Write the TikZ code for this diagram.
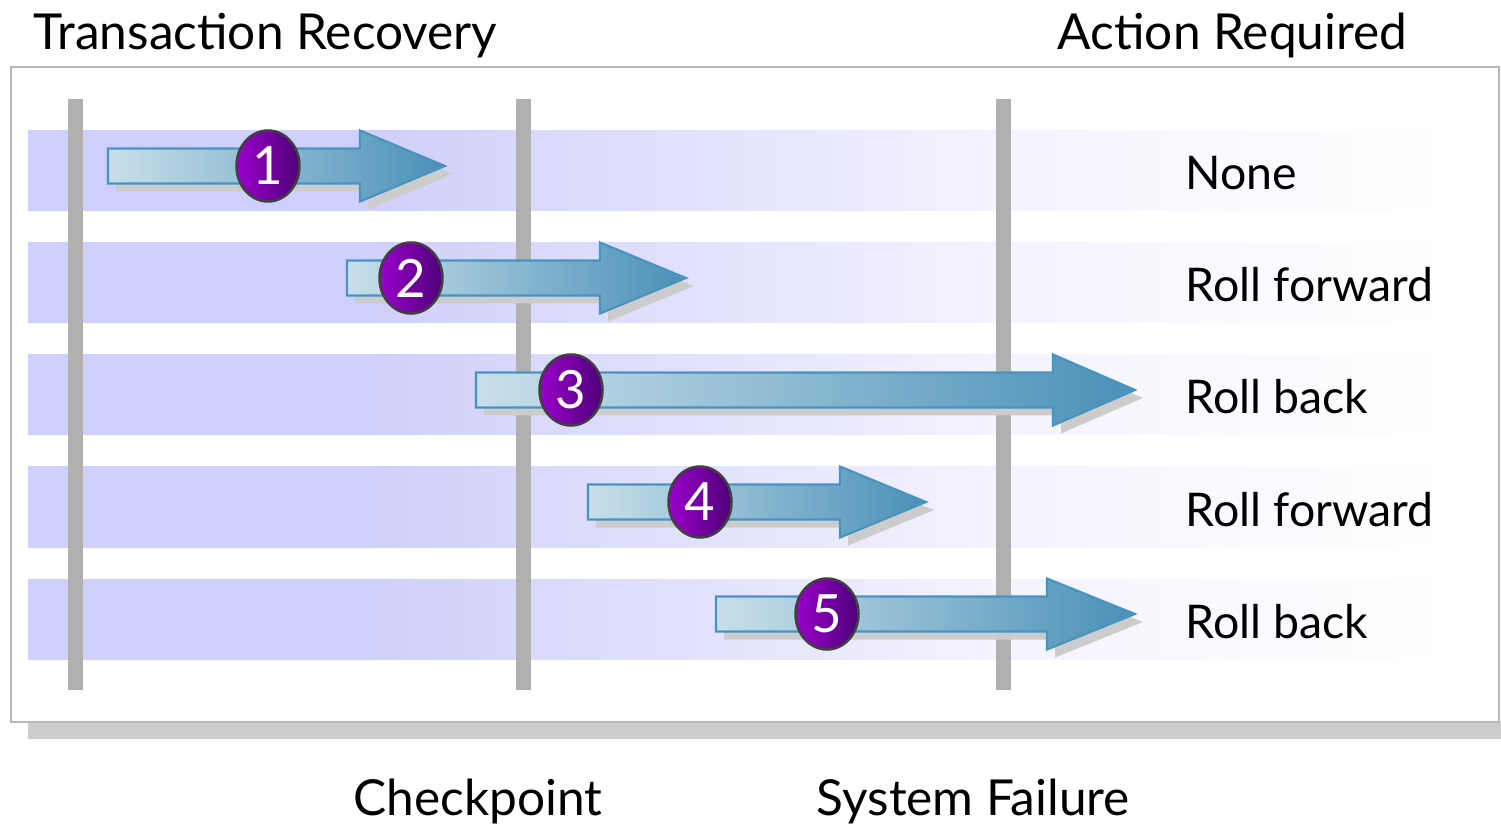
\documentclass[tikz,border=0pt]{standalone}
\usepackage{fontspec}
\setmainfont{Lato}
\usetikzlibrary{shapes.geometric}
\definecolor{bandL}{HTML}{CFCFFB}
\definecolor{bandR}{HTML}{F3F3FE}
\definecolor{barGray}{HTML}{B0B0B0}
\definecolor{arrowL}{HTML}{C9DFE9}
\definecolor{arrowR}{HTML}{4A90B8}
\definecolor{arrowEdge}{HTML}{4A93BF}
\definecolor{discL}{HTML}{9A00CC}
\definecolor{discR}{HTML}{4E0078}
\pgfdeclarehorizontalshading{bandfade}{100bp}{color(0bp)=(bandL); color(25bp)=(bandL);
  color(37bp)=(bandL); color(59bp)=(bandR); color(75bp)=(white); color(100bp)=(white)}
\tikzset{
  txt/.style={font=\fontsize{14.1pt}{16pt}\selectfont, inner sep=0pt},
  acttxt/.style={font=\fontsize{13.2pt}{15pt}\selectfont, inner sep=0pt},
  disc/.style={ellipse, minimum width=0.63cm, minimum height=0.71cm, inner sep=0pt,
    draw=black!75, line width=0.7pt, left color=discL, right color=discR,
    text=white, font=\fontsize{15pt}{16pt}\selectfont},
  bar/.style={fill=barGray, draw=none}
}
\begin{document}
\begin{tikzpicture}[x=0.01cm, y=-0.01cm]
  \useasboundingbox (0,0) rectangle (1501,828);
  % frame and its shadow
  \fill[black!20] (28,722) rectangle (1501,739);
  \draw[black!28, fill=white, line width=0.45pt] (11,67) rectangle (1499,722);
  % titles
  \node[txt, anchor=base west] (title) at (33,50) {Transaction Recovery};
  \node[txt, anchor=base west] (action) at (1057,50) {Action Required};
  \node[txt, anchor=base west] (chk) at (353,815) {Checkpoint};
  \node[txt, anchor=base west] (fail) at (816,815) {System Failure};
  % bands
  \foreach \yc in {171,283,395,507,619}
    \shade[shading=bandfade] (28,\yc-40) rectangle (1450,\yc+40);
  % time lines
  \fill[bar] (68,99) rectangle (83,690);
  \fill[bar] (516,99) rectangle (531,690);
  \fill[bar] (996,99) rectangle (1011,690);
  % transactions
  \foreach \n/\yc/\xs/\xb/\xt/\xc/\act in {
      1/166/108/360/445/268/None,
      2/278/347/600/686/411/Roll forward,
      3/390/476/1053/1135/571/Roll back,
      4/502/588/840/926/700/Roll forward,
      5/614/716/1047/1135/827/Roll back}{
    \fill[black!20, shift={(8,8)}] (\xs,\yc-17.5) -- (\xb,\yc-17.5) -- (\xb,\yc-35.5)
      -- (\xt,\yc) -- (\xb,\yc+35.5) -- (\xb,\yc+17.5) -- (\xs,\yc+17.5) -- cycle;
    \draw[arrowEdge, line width=0.6pt, left color=arrowL, right color=arrowR]
      (\xs,\yc-17.5) -- (\xb,\yc-17.5) -- (\xb,\yc-35.5) -- (\xt,\yc)
      -- (\xb,\yc+35.5) -- (\xb,\yc+17.5) -- (\xs,\yc+17.5) -- cycle;
    \node[disc] (num\n) at (\xc,\yc) {\n};
    \node[acttxt, anchor=base west] (act\n) at (1185,\yc+24) {\act};
  }
\end{tikzpicture}
\end{document}
